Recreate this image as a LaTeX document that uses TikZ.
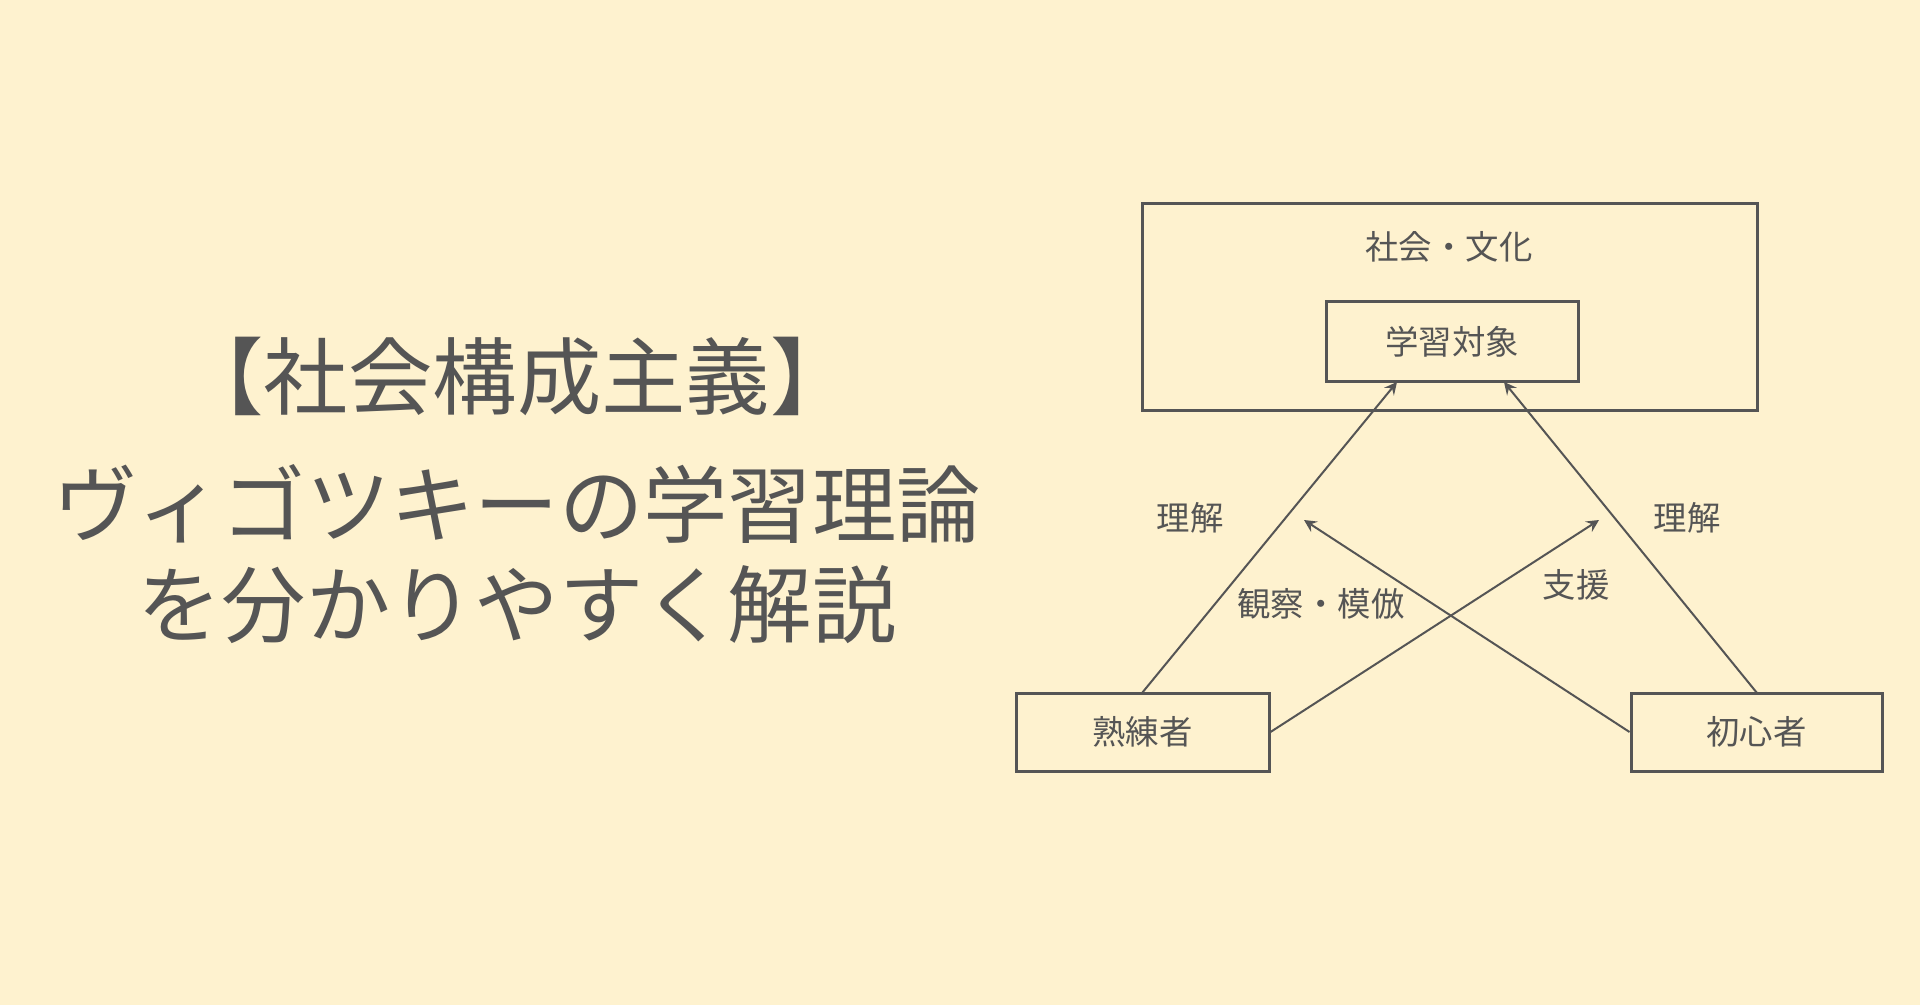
\documentclass[tikz,border=0pt]{standalone}
\usepackage{fontspec}
\setmainfont{Noto Sans CJK JP}
\usetikzlibrary{positioning}
\definecolor{bgcream}{HTML}{FEF2CF}
\definecolor{inkgray}{HTML}{555555}

\begin{document}
\begin{tikzpicture}
	% Styles
	[
	box/.style={rectangle, draw=inkgray, line width=0.3mm, inner sep=0pt},
	lbl/.style={text=inkgray, font=\fontsize{9.5}{11}\selectfont},
	title/.style={text=inkgray, font=\fontsize{24}{28}\selectfont},
	link/.style={draw=inkgray, line width=0.2mm, -stealth}
	]

	% Background
	\fill[bgcream] (0,0) rectangle (19.2,-10.05);
	\useasboundingbox (0,0) rectangle (19.2,-10.05);

	% Title
	\node at (5.17,-3.76)	(head)	[title] {【社会構成主義】};
	\node at (5.17,-5.04)	(head2)	[title] {ヴィゴツキーの学習理論};
	\node at (5.17,-6.05)	(head3)	[title] {を分かりやすく解説};

	% Nodes
	\node at (14.495,-3.07)	(society)	[box, minimum width=6.15cm, minimum height=2.06cm] {};
	\node at (14.49,-2.47)	(societylbl)	[lbl] {社会・文化};
	\node at (14.52,-3.42)	(target)	[box, minimum width=2.52cm, minimum height=0.8cm, lbl] {学習対象};
	\node at (11.425,-7.32)	(expert)	[box, minimum width=2.53cm, minimum height=0.78cm, lbl] {熟練者};
	\node at (17.565,-7.32)	(novice)	[box, minimum width=2.51cm, minimum height=0.78cm, lbl] {初心者};
	\coordinate (exptop) at (11.42,-6.93);
	\coordinate (novtop) at (17.57,-6.93);
	\coordinate (tgtL) at (13.97,-3.82);
	\coordinate (tgtR) at (15.04,-3.82);
	\coordinate (helpend) at (15.99,-5.20);
	\coordinate (watchend) at (13.04,-5.20);

	% Connections
	\draw[link] (exptop) -- (tgtL);
	\draw[link] (novtop) -- (tgtR);
	\draw[link] (expert.east) -- (helpend);
	\draw[link] (novice.west) -- (watchend);

	% Labels
	\node at (11.90,-5.18)	(underA)	[lbl] {理解};
	\node at (16.87,-5.18)	(underB)	[lbl] {理解};
	\node at (13.21,-6.04)	(watch)	[lbl] {観察・模倣};
	\node at (15.76,-5.85)	(help)	[lbl] {支援};

\end{tikzpicture}
\end{document}
